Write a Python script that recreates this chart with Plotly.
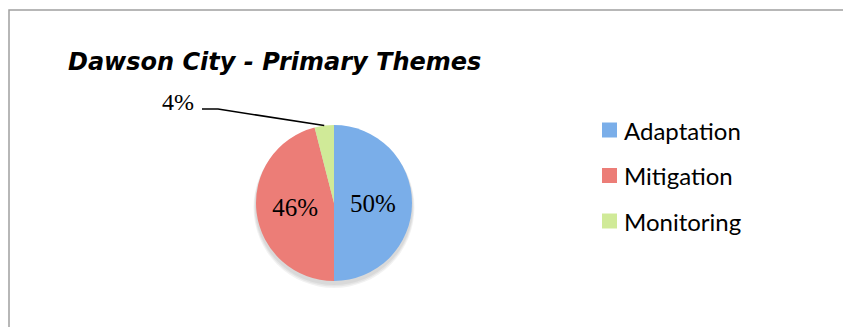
import math
import plotly.graph_objects as go

# ---- data ----
labels = ["Adaptation", "Mitigation", "Monitoring"]
values = [50, 46, 4]
colors = ["#7aaee9", "#ec7d77", "#d0ea98"]
title_text = "Dawson City - Primary Themes"

W, H = 843, 327


def px(x):
    return x / W


def py(y):
    return 1 - y / H


# pie geometry (pixels)
cx, cy, r = 334, 203, 78

total = sum(values)
pcts = [round(v * 100 / total) for v in values]
text_pos = ["inside" if v / total > 0.1 else "none" for v in values]

fig = go.Figure()
fig.add_trace(go.Pie(
    labels=labels,
    values=values,
    sort=False,
    direction="clockwise",
    rotation=0,
    marker=dict(colors=colors, line=dict(width=0)),
    texttemplate="%{percent:.0%}",
    textposition=text_pos,
    insidetextorientation="horizontal",
    textfont=dict(family="Liberation Serif", size=25, color="#000000"),
    domain=dict(x=[px(cx - r), px(cx + r)], y=[py(cy + r), py(cy - r)]),
    showlegend=False,
    hoverinfo="label+percent",
))

shapes = []
annotations = []

# frame
shapes.append(dict(type="rect", xref="paper", yref="paper",
                   x0=px(9), x1=px(W + 20), y0=py(H + 20), y1=py(10),
                   line=dict(color="#a0a0a0", width=1.5), layer="below"))

# subtle shadow under the pie
for k, a in enumerate([0.05, 0.05, 0.05]):
    d = 2 + k * 1.5
    shapes.append(dict(type="circle", xref="paper", yref="paper",
                       x0=px(cx - r - d / 2), x1=px(cx + r + d / 2),
                       y0=py(cy + r + d + 2), y1=py(cy - r + 2),
                       fillcolor=f"rgba(0,0,0,{a})", line=dict(width=0),
                       layer="below"))

# outside label with leader line for small slices
cum = 0
for lab, v, p, tp in zip(labels, values, pcts, text_pos):
    mid = (cum + v / 2) / total * 2 * math.pi
    cum += v
    if tp != "none":
        continue
    ex = cx + r * math.sin(mid)
    ey = cy - r * math.cos(mid)
    sx, bx, ly = 202, 218, 109
    shapes.append(dict(type="path", xref="paper", yref="paper",
                       path=f"M {px(sx)} {py(ly)} L {px(bx)} {py(ly)} L {px(ex)} {py(ey)}",
                       line=dict(color="#000000", width=1.5)))
    annotations.append(dict(xref="paper", yref="paper", x=px(sx - 6), y=py(ly - 7),
                            xanchor="right", yanchor="middle", showarrow=False,
                            text=f"{p}%",
                            font=dict(family="Liberation Serif", size=24, color="#000000")))

# legend (manual)
leg_x, leg_y0, leg_dy, sq = 602, 130, 45.5, 15
for i, (lab, c) in enumerate(zip(labels, colors)):
    yc = leg_y0 + i * leg_dy
    shapes.append(dict(type="rect", xref="paper", yref="paper",
                       x0=px(leg_x), x1=px(leg_x + sq),
                       y0=py(yc + sq / 2), y1=py(yc - sq / 2),
                       fillcolor=c, line=dict(width=0)))
    annotations.append(dict(xref="paper", yref="paper", x=px(leg_x + sq + 5), y=py(yc),
                            xanchor="left", yanchor="middle", showarrow=False,
                            text=lab,
                            font=dict(family="Lato", size=24, color="#000000")))

# title
annotations.append(dict(xref="paper", yref="paper", x=px(66), y=py(62),
                        xanchor="left", yanchor="middle", showarrow=False,
                        text=f"<b><i>{title_text}</i></b>",
                        font=dict(family="DejaVu Sans", size=24, color="#000000")))

fig.update_layout(
    width=W, height=H,
    margin=dict(l=0, r=0, t=0, b=0),
    paper_bgcolor="#ffffff",
    plot_bgcolor="#ffffff",
    shapes=shapes,
    annotations=annotations,
)

fig.write_html("out.html", config={"displayModeBar": False})

# remove the default page margin so the figure sits at the window origin
with open("out.html", "r", encoding="utf-8") as f:
    html = f.read()
html = html.replace("<head>", "<head><style>html,body{margin:0;padding:0;overflow:hidden;}</style>", 1)
with open("out.html", "w", encoding="utf-8") as f:
    f.write(html)
